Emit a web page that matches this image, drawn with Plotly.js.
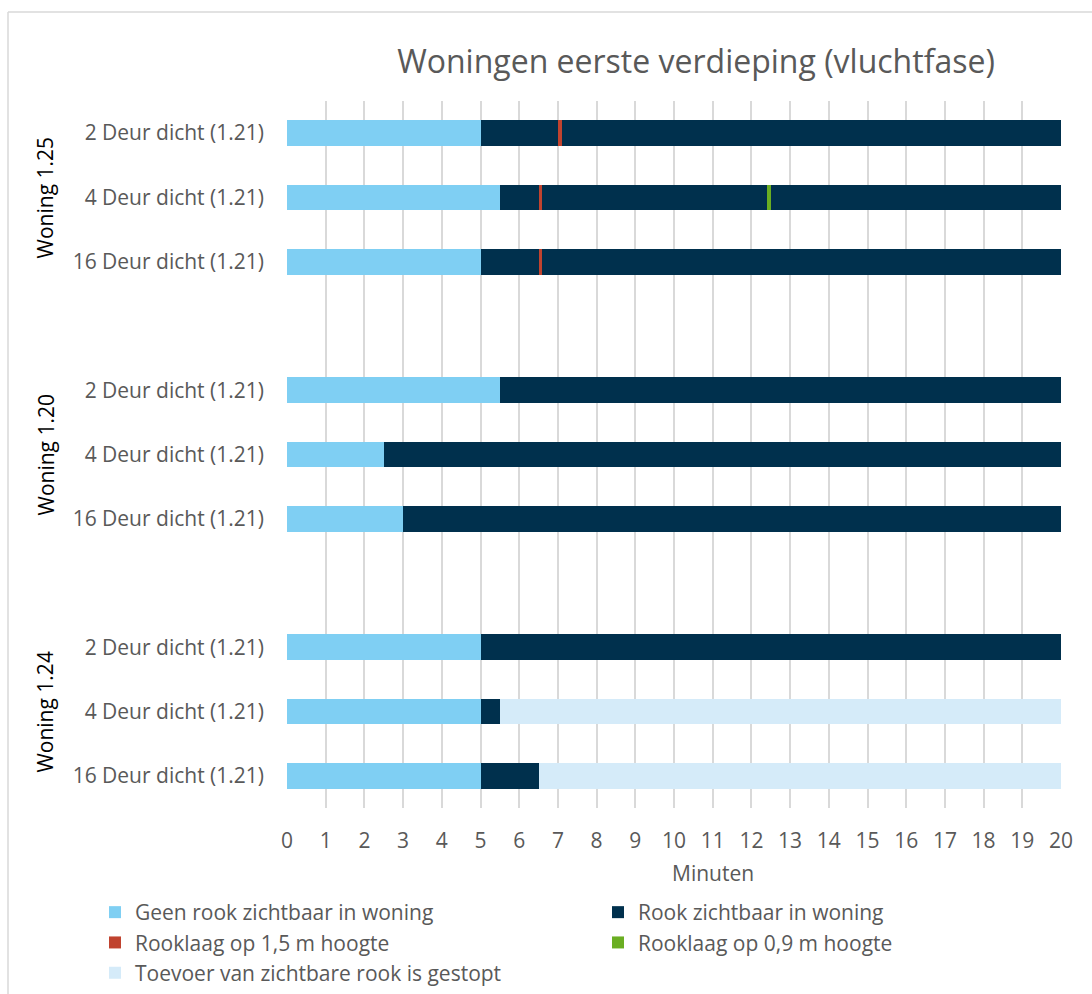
<!DOCTYPE html>
<html>
<head>
<meta charset="utf-8">
<script src="https://cdn.plot.ly/plotly-3.0.1.min.js"></script>
<style>
  html, body { margin: 0; padding: 0; background: #ffffff; }
  #chart { width: 1092px; height: 994px; }
</style>
</head>
<body>
<div id="chart"></div>
<script>
// ---- Data ----
const chartTitle = "Woningen eerste verdieping (vluchtfase)";
const xAxisTitle = "Minuten";
const groups = ["Woning 1.25", "Woning 1.20", "Woning 1.24"];
const doors = ["2 Deur dicht (1.21)", "4 Deur dicht (1.21)", "16 Deur dicht (1.21)"];
const xTicks = [0,1,2,3,4,5,6,7,8,9,10,11,12,13,14,15,16,17,18,19,20];

// Segment lengths (minutes), rows in order: group 1.25 (2,4,16), 1.20 (2,4,16), 1.24 (2,4,16)
const geenRook   = [5.0, 5.5, 5.0,   5.5,  2.5,  3.0,   5.0, 5.0, 5.0];
const rook1      = [2.0, 1.0, 1.5,  14.5, 17.5, 17.0,  15.0, 0.5, 1.5];
const rooklaag15 = [0.1, 0.1, 0.1,   0,    0,    0,     0,   0,   0  ];
const rook2      = [12.9, 5.8, 13.4, 0,    0,    0,     0,   0,   0  ];
const rooklaag09 = [0,   0.1, 0,     0,    0,    0,     0,   0,   0  ];
const rook3      = [0,   7.5, 0,     0,    0,    0,     0,   0,   0  ];
const toevoer    = [0,   0,   0,     0,    0,    0,     0,  14.5, 13.5];

const names = {
  geen: "Geen rook zichtbaar in woning",
  rook: "Rook zichtbaar in woning",
  r15: "Rooklaag op 1,5 m hoogte",
  r09: "Rooklaag op 0,9 m hoogte",
  toe: "Toevoer van zichtbare rook is gestopt"
};

// ---- Styling ----
const FONT = "Open Sans, Liberation Sans, sans-serif";
const colors = {
  geen: "#7fcff3",
  rook: "#00304d",
  r15: "#c0432f",
  r09: "#6aae22",
  toe: "#d5ebf9"
};

// Category positions (with one empty slot between groups)
const yPos = [];
const yText = [];
groups.forEach((g, gi) => {
  doors.forEach((d, di) => {
    yPos.push(gi * (doors.length + 1) + di);
    yText.push(d);
  });
});

function bar(vals, name, color, showlegend, rank) {
  return {
    type: "bar",
    orientation: "h",
    x: vals,
    y: yPos,
    name: name,
    legendgroup: name,
    showlegend: showlegend,
    legendrank: rank,
    marker: { color: color, line: { width: 0 } },
    hoverinfo: "x+name"
  };
}

const traces = [
  bar(geenRook, names.geen, colors.geen, true, 1),
  bar(rook1, names.rook, colors.rook, true, 2),
  bar(rooklaag15, names.r15, colors.r15, true, 3),
  bar(rook2, names.rook, colors.rook, false, 2),
  bar(rooklaag09, names.r09, colors.r09, true, 4),
  bar(rook3, names.rook, colors.rook, false, 2),
  bar(toevoer, names.toe, colors.toe, true, 5)
];

// ---- Layout geometry ----
const W = 1092, H = 994;
const M = { l: 287, r: 31, t: 101, b: 186, autoexpand: false };
const PW = W - M.l - M.r, PH = H - M.t - M.b;
const px = v => (v - M.l) / PW;            // pixel x -> paper x
const py = v => (H - M.b - v) / PH;        // pixel y -> paper y

const annotations = groups.map((g, gi) => ({
  text: g,
  xref: "paper", yref: "y",
  x: px(45), y: gi * (doors.length + 1) + (doors.length - 1) / 2,
  textangle: -90,
  showarrow: false,
  xanchor: "center", yanchor: "middle",
  font: { family: FONT, size: 21, color: "#000000" }
}));
annotations.push({
  text: xAxisTitle,
  xref: "paper", yref: "paper",
  x: px(713), y: py(873),
  showarrow: false,
  xanchor: "center", yanchor: "middle",
  font: { family: FONT, size: 21, color: "#595959" }
});

const layout = {
  width: W, height: H,
  margin: M,
  paper_bgcolor: "#ffffff",
  plot_bgcolor: "#ffffff",
  font: { family: FONT, size: 21, color: "#595959" },
  title: {
    text: chartTitle,
    font: { family: FONT, size: 32, color: "#595959" },
    x: 696 / W, xanchor: "center", xref: "container",
    y: 1 - 62 / H, yanchor: "middle", yref: "container"
  },
  barmode: "stack",
  bargap: 0.6,
  xaxis: {
    range: [0, 20],
    tickvals: xTicks,
    ticktext: xTicks.map(String),
    showgrid: true,
    gridcolor: "#d9d9d9",
    gridwidth: 2,
    zeroline: false,
    showline: false,
    ticks: "",
    ticklabelstandoff: 18,
    tickfont: { family: FONT, size: 21, color: "#595959" },
    fixedrange: true
  },
  yaxis: {
    range: [yPos[yPos.length - 1] + 0.5, -0.5],
    tickvals: yPos,
    ticktext: yText,
    showgrid: false,
    zeroline: false,
    showline: false,
    ticks: "",
    ticklabelstandoff: 22,
    tickfont: { family: FONT, size: 21, color: "#595959" },
    fixedrange: true
  },
  showlegend: true,
  legend: {
    orientation: "h",
    x: px(95), xanchor: "left",
    y: py(892), yanchor: "top",
    entrywidth: 458,
    entrywidthmode: "pixels",
    traceorder: "normal",
    font: { family: FONT, size: 21, color: "#595959" },
    bgcolor: "rgba(0,0,0,0)",
    itemclick: false, itemdoubleclick: false
  },
  annotations: annotations,
  shapes: [
    { type: "line", xref: "paper", yref: "paper", x0: px(8), x1: px(W), y0: py(12), y1: py(12),
      line: { color: "#d9d9d9", width: 1.5 } },
    { type: "line", xref: "paper", yref: "paper", x0: px(8), x1: px(8), y0: py(12), y1: py(H),
      line: { color: "#d9d9d9", width: 1.5 } }
  ]
};

Plotly.newPlot("chart", traces, layout, { displayModeBar: false, staticPlot: true });
</script>
</body>
</html>
